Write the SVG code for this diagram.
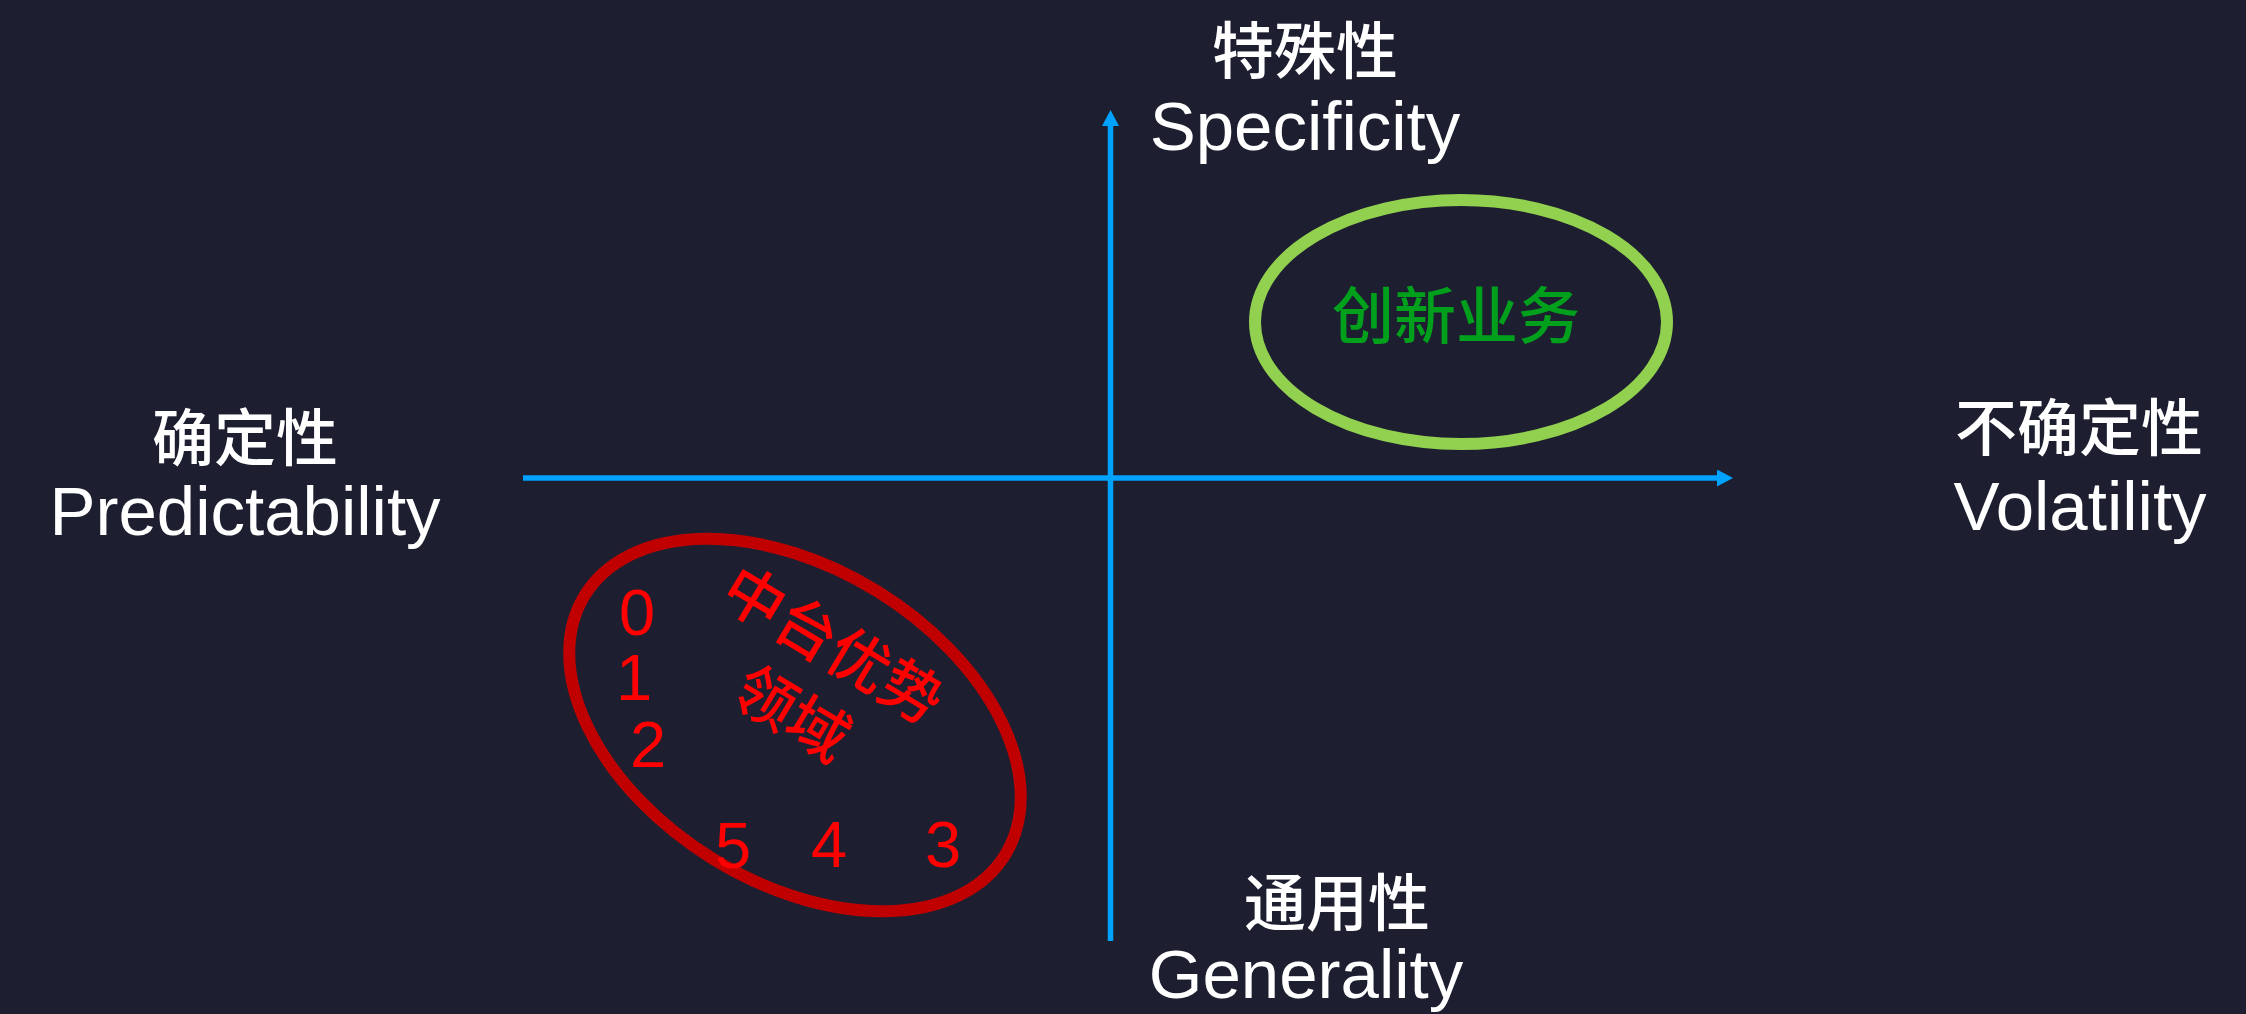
<svg xmlns="http://www.w3.org/2000/svg" width="2246" height="1014" viewBox="0 0 2246 1014">
<style>
.lbl{fill:#FFFFFF;font-family:"Liberation Sans","Noto Sans CJK SC",sans-serif;text-anchor:middle}
.cjk{font-size:62px;font-weight:500;font-family:"Noto Sans CJK SC","Liberation Sans",sans-serif}
.en{font-size:69px}
.axis{stroke:#00A2FF;stroke-width:5.5;fill:none}
.num{fill:#FF0000;font-family:"Liberation Sans",sans-serif;font-size:65px}
.red{fill:#FF0000;font-family:"Noto Sans CJK SC",sans-serif;font-weight:500;font-size:61px;text-anchor:middle}
</style>
<defs>
<marker id="arrow" markerUnits="userSpaceOnUse" markerWidth="16" markerHeight="17" refX="8" refY="8.5" orient="auto">
<path d="M0,0 L16,8.5 L0,17 z" fill="#00A2FF"/>
</marker>
</defs>
<rect width="2246" height="1014" fill="#1D1F30"/>
<g id="connectors">
<line class="axis" x1="523" y1="478" x2="1725" y2="478" marker-end="url(#arrow)"/>
<line class="axis" x1="1110.5" y1="941" x2="1110.5" y2="118" marker-end="url(#arrow)"/>
</g>
<g id="label-top">
<text class="lbl cjk" x="1305" y="74">特殊性</text>
<text class="lbl en" x="1305" y="150">Specificity</text>
</g>
<g id="label-left">
<text class="lbl cjk" x="245" y="461">确定性</text>
<text class="lbl en" x="245" y="535">Predictability</text>
</g>
<g id="label-right">
<text class="lbl cjk" x="2079" y="451">不确定性</text>
<text class="lbl en" x="2080" y="530">Volatility</text>
</g>
<g id="label-bottom">
<text class="lbl cjk" x="1337" y="926">通用性</text>
<text class="lbl en" x="1306" y="998">Generality</text>
</g>
<g id="innovation">
<ellipse cx="1461" cy="322" rx="206" ry="122" fill="none" stroke="#92D050" stroke-width="12"/>
<text x="1456" y="339" fill="#00A01C" font-family="Noto Sans CJK SC, sans-serif" font-weight="500" font-size="62" text-anchor="middle">创新业务</text>
</g>
<g id="middle-platform">
<ellipse cx="0" cy="0" rx="247" ry="157" transform="translate(795 725) rotate(31.7)" fill="none" stroke="#C00000" stroke-width="12"/>
<g transform="translate(833 645) rotate(31)">
<text class="red" x="0" y="22">中台优势</text>
<text class="red" x="0" y="102">领域</text>
</g>
<text class="num" x="619" y="635">0</text>
<text class="num" x="616" y="700">1</text>
<text class="num" x="630" y="767">2</text>
<text class="num" x="715" y="868">5</text>
<text class="num" x="811" y="867">4</text>
<text class="num" x="925" y="867">3</text>
</g>
</svg>
